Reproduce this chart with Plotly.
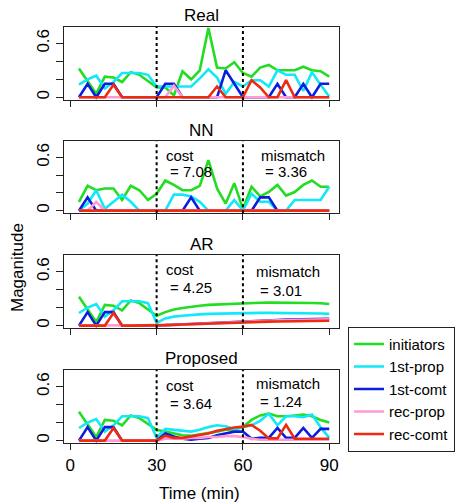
import plotly.graph_objects as go

# ---------------- data ----------------
time_min = [3, 6, 9, 12, 15, 18, 21, 24, 27, 30,
            33, 36, 39, 42, 45, 48, 51, 54, 57, 60,
            63, 66, 69, 72, 75, 78, 81, 84, 87, 90]

series_names = ["initiators", "1st-prop", "1st-comt", "rec-prop", "rec-comt"]
series_colors = ["#22dd22", "#11e8f8", "#0a1ee0", "#ff9ad2", "#ee2a10"]

panel_titles = ["Real", "NN", "AR", "Proposed"]
cost_labels = [None, "= 7.08", "= 4.25", "= 3.64"]
mismatch_labels = [None, "= 3.36", "= 3.01", "= 1.24"]

x_ticks = [0, 30, 60, 90]
y_ticks = [0, 0.2, 0.4, 0.6]
y_ticktext = ["0", "", "", "0.6"]

# Real
real_init = [0.32, 0.18, 0.04, 0.23, 0.22, 0.17, 0.28, 0.25, 0.18, 0.11,
             0.11, 0.02, 0.29, 0.20, 0.30, 0.77, 0.33, 0.32, 0.39, 0.27,
             0.23, 0.33, 0.36, 0.30, 0.30, 0.30, 0.34, 0.30, 0.29, 0.23]
real_prop = [0.14, 0.20, 0.24, 0.10, 0.17, 0.27, 0.27, 0.27, 0.25, 0.12,
             0.12, 0.12, 0.12, 0.12, 0.21, 0.31, 0.22, 0.04, 0.17, 0.12,
             0.19, 0.19, 0.12, 0.30, 0.25, 0.25, 0.07, 0.28, 0.14, 0.01]
real_comt = [0, 0.15, 0, 0.15, 0.15, 0, 0, 0, 0, 0,
             0.15, 0.15, 0, 0, 0, 0, 0, 0.30, 0.15, 0,
             0, 0, 0, 0.15, 0, 0, 0.15, 0, 0.15, 0.15]
real_rprop = [0, 0, 0, 0, 0, 0, 0, 0, 0, 0,
              0, 0.13, 0, 0, 0, 0, 0, 0, 0, 0,
              0, 0, 0, 0, 0, 0, 0, 0, 0, 0]
real_rcomt = [0, 0, 0, 0, 0.14, 0, 0, 0, 0, 0,
              0, 0, 0, 0, 0, 0, 0.12, 0, 0, 0,
              0.19, 0.11, 0, 0, 0.19, 0, 0, 0, 0, 0]

# NN
nn_init = [0.10, 0.28, 0.23, 0.25, 0.25, 0.12, 0.28, 0.23, 0.12, 0.19,
           0.34, 0.29, 0.23, 0.23, 0.28, 0.57, 0.25, 0.08, 0.31, 0.02,
           0.27, 0.16, 0.21, 0.29, 0.17, 0.21, 0.29, 0.34, 0.27, 0.27]
nn_prop = [0, 0.08, 0.23, 0.02, 0.10, 0.18, 0.10, 0, 0, 0,
           0, 0.18, 0.18, 0.16, 0.10, 0, 0, 0, 0.12, 0,
           0.19, 0.10, 0.10, 0, 0, 0.12, 0.12, 0.12, 0.12, 0.27]
nn_comt = [0, 0.15, 0, 0, 0, 0, 0, 0, 0, 0,
           0, 0, 0, 0.15, 0, 0, 0, 0, 0, 0,
           0, 0.15, 0.15, 0, 0, 0, 0, 0, 0, 0]
nn_rprop = [0, 0, 0.10, 0, 0, 0, 0, 0, 0, 0,
            0, 0, 0, 0, 0, 0, 0, 0, 0, 0,
            0, 0, 0, 0, 0, 0, 0, 0, 0, 0]
nn_rcomt = [0, 0, 0, 0, 0, 0, 0, 0, 0, 0,
            0, 0, 0, 0, 0, 0, 0, 0, 0, 0,
            0, 0, 0, 0, 0, 0, 0, 0, 0, 0]

# AR
ar_init = [0.32, 0.18, 0.04, 0.23, 0.22, 0.17, 0.28, 0.25, 0.18, 0.11,
           0.15, 0.18, 0.195, 0.21, 0.22, 0.23, 0.235, 0.24, 0.245, 0.25,
           0.252, 0.254, 0.255, 0.256, 0.256, 0.256, 0.255, 0.252, 0.248, 0.24]
ar_prop = [0.14, 0.20, 0.24, 0.10, 0.17, 0.27, 0.27, 0.27, 0.25, 0.03,
           0.08, 0.10, 0.11, 0.12, 0.125, 0.13, 0.133, 0.136, 0.138, 0.14,
           0.141, 0.142, 0.142, 0.142, 0.142, 0.141, 0.14, 0.138, 0.135, 0.13]
ar_comt = [0, 0.15, 0, 0.15, 0.15, 0, 0, 0, 0, 0,
           0.005, 0.01, 0.015, 0.02, 0.025, 0.03, 0.035, 0.04, 0.044, 0.048,
           0.052, 0.056, 0.06, 0.063, 0.066, 0.069, 0.071, 0.073, 0.075, 0.076]
ar_rprop = [0, 0, 0, 0, 0, 0, 0, 0, 0, 0,
            0.003, 0.007, 0.011, 0.016, 0.02, 0.025, 0.03, 0.035, 0.039, 0.043,
            0.047, 0.051, 0.055, 0.058, 0.061, 0.064, 0.066, 0.068, 0.07, 0.071]
ar_rcomt = [0, 0, 0, 0, 0.14, 0, 0, 0, 0, 0,
            0.004, 0.008, 0.012, 0.016, 0.02, 0.024, 0.028, 0.031, 0.034, 0.037,
            0.04, 0.042, 0.044, 0.046, 0.048, 0.05, 0.051, 0.052, 0.053, 0.054]

# Proposed
pr_init = [0.32, 0.18, 0.04, 0.23, 0.22, 0.17, 0.28, 0.25, 0.18, 0.12,
           0.10, 0.08, 0.06, 0.055, 0.07, 0.08, 0.10, 0.12, 0.12, 0.15,
           0.23, 0.28, 0.30, 0.27, 0.27, 0.28, 0.29, 0.27, 0.23, 0.20]
pr_prop = [0.14, 0.20, 0.24, 0.10, 0.17, 0.27, 0.27, 0.27, 0.25, 0.03,
           0.13, 0.12, 0.11, 0.10, 0.12, 0.15, 0.17, 0.16, 0.13, 0.15,
           0.17, 0.22, 0.30, 0.17, 0.27, 0.27, 0.26, 0.29, 0.15, 0.03]
pr_comt = [0, 0.15, 0, 0.15, 0.15, 0, 0, 0, 0, 0,
           0.08, 0.045, 0.02, 0.01, 0.02, 0.03, 0.06, 0.08, 0.10, 0.10,
           0.02, 0.03, 0.03, 0.14, 0.03, 0.03, 0.14, 0.03, 0.13, 0.13]
pr_rprop = [0, 0, 0, 0, 0, 0, 0, 0, 0, 0,
            0.02, 0.02, 0.02, 0.03, 0.03, 0.04, 0.04, 0.05, 0.05, 0.04,
            0.02, 0.01, 0.01, 0.01, 0.01, 0.01, 0.01, 0.01, 0.01, 0.01]
pr_rcomt = [0, 0, 0, 0, 0.14, 0, 0, 0, 0, 0,
            0.055, 0.03, 0.03, 0.045, 0.06, 0.08, 0.11, 0.13, 0.145, 0.155,
            0.175, 0.11, 0.025, 0.025, 0.175, 0.02, 0.02, 0.02, 0.02, 0.02]

panels = [
    [real_init, real_prop, real_comt, real_rprop, real_rcomt],
    [nn_init, nn_prop, nn_comt, nn_rprop, nn_rcomt],
    [ar_init, ar_prop, ar_comt, ar_rprop, ar_rcomt],
    [pr_init, pr_prop, pr_comt, pr_rprop, pr_rcomt],
]

# ---------------- layout geometry ----------------
W, H = 463, 504
ML, MR = 64, 124
box_tops = [26.7, 141, 255, 370]
box_bots = [100, 213.3, 328.3, 443.3]
title_y = [15, 130, 244, 358]
FONT = "Liberation Sans, Arial, Helvetica, sans-serif"

fig = go.Figure()
layout = dict(
    width=W, height=H,
    margin=dict(l=ML, r=MR, t=0, b=0, pad=0, autoexpand=False),
    paper_bgcolor="white", plot_bgcolor="white",
    font=dict(family=FONT, size=17, color="black"),
    showlegend=True,
    legend=dict(
        x=(348 - ML) / (W - ML - MR), y=1 - 326.7 / H,
        xanchor="left", yanchor="top",
        bgcolor="white", bordercolor="#222", borderwidth=1,
        font=dict(size=15, family=FONT),
        tracegroupgap=0, itemwidth=30,
    ),
)

annotations = []
shapes = []
for p in range(4):
    sx = "" if p == 0 else str(p + 1)
    xa, ya = "x" + sx, "y" + sx
    for s in range(5):
        fig.add_trace(go.Scatter(
            x=time_min, y=panels[p][s], mode="lines",
            line=dict(color=series_colors[s], width=2.6),
            name=series_names[s], legendgroup=series_names[s],
            showlegend=(p == 0), xaxis=xa, yaxis=ya,
        ))
    dom = [1 - box_bots[p] / H, 1 - box_tops[p] / H]
    layout["xaxis" + sx] = dict(
        domain=[0, 1], anchor=ya, range=[-2.2, 93.4],
        tickvals=x_ticks, ticks="outside", ticklen=6, tickwidth=1,
        tickcolor="#222", showticklabels=(p == 3),
        tickfont=dict(size=17), showgrid=False, zeroline=False,
        showline=True, mirror=True, linecolor="#222", linewidth=1,
    )
    layout["yaxis" + sx] = dict(
        domain=dom, anchor=xa, range=[-0.03, 0.785],
        tickvals=y_ticks, ticktext=y_ticktext, ticks="outside",
        ticklen=7, tickwidth=1, tickcolor="#222", tickangle=-90,
        tickfont=dict(size=17), showgrid=False, zeroline=False,
        showline=True, mirror=True, linecolor="#222", linewidth=1,
    )
    for xv in (30, 60):
        shapes.append(dict(
            type="line", xref=xa, yref=ya + " domain", x0=xv, x1=xv,
            y0=0, y1=1, line=dict(color="black", width=2, dash="dot"),
        ))
    annotations.append(dict(
        text=panel_titles[p], xref="paper", yref="paper",
        x=0.5, y=1 - title_y[p] / H, xanchor="center", yanchor="middle",
        showarrow=False, font=dict(size=17),
    ))

# cost / mismatch labels (data coords)
cost_pos = [None, (32.6, 0.62, 0.44), (32.6, 0.62, 0.42), (32.6, 0.615, 0.415)]
mism_pos = [None, (65.6, 0.62, 0.44), (63.9, 0.60, 0.39), (63.9, 0.64, 0.44)]
for p in range(1, 4):
    sx = str(p + 1)
    cx, cy1, cy2 = cost_pos[p]
    mx, my1, my2 = mism_pos[p]
    for txt, x, y in (("cost", cx, cy1), (cost_labels[p], cx + 1.2, cy2),
                      ("mismatch", mx, my1), (mismatch_labels[p], mx + 1.4, my2)):
        annotations.append(dict(
            text=txt, xref="x" + sx, yref="y" + sx, x=x, y=y,
            xanchor="left", yanchor="middle", showarrow=False,
            font=dict(size=15),
        ))

annotations.append(dict(
    text="Maganitude", xref="paper", yref="paper",
    x=(17 - ML) / (W - ML - MR), y=1 - 268 / H, textangle=-90,
    xanchor="center", yanchor="middle", showarrow=False, font=dict(size=17),
))
annotations.append(dict(
    text="Time (min)", xref="paper", yref="paper",
    x=(199.5 - ML) / (W - ML - MR), y=1 - 493 / H,
    xanchor="center", yanchor="middle", showarrow=False, font=dict(size=17),
))

layout["annotations"] = annotations
layout["shapes"] = shapes
fig.update_layout(**layout)
fig.write_html("out.html")
